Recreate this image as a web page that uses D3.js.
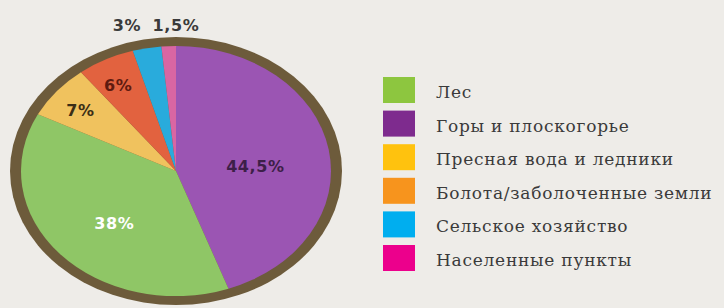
<!DOCTYPE html>
<html>
<head>
<meta charset="utf-8">
<script src="https://cdn.jsdelivr.net/npm/d3@7"></script>
<style>
  html, body { margin: 0; padding: 0; background: #eeece8; }
  svg { display: block; }
  .lbl { font-family: "DejaVu Sans", sans-serif; font-weight: bold; font-size: 16px; letter-spacing: 0.6px; }
  .leg { font-family: "DejaVu Serif", serif; font-size: 17px; fill: #3a3a3a; letter-spacing: 0.75px; }
</style>
</head>
<body>
<script>
var w = 724;
var h = 308;

// shares, clockwise from 12 o'clock
var categories = ['Горы и плоскогорье', 'Лес', 'Пресная вода и ледники', 'Болота/заболоченные земли', 'Сельское хозяйство', 'Населенные пункты'];
var values = [44.5, 38, 7, 6, 3, 1.5];
var labels = ['44,5%', '38%', '7%', '6%', '3%', '1,5%'];
var sliceColors = ['#9b55b3', '#8fc666', '#f0c25e', '#e2623f', '#29abdc', '#d966a3'];

// legend order as in the picture
var legendNames = ['Лес', 'Горы и плоскогорье', 'Пресная вода и ледники', 'Болота/заболоченные земли', 'Сельское хозяйство', 'Населенные пункты'];
var legendColors = ['#8dc63f', '#7e2b8e', '#ffc20e', '#f7941d', '#00aeef', '#ec008c'];

var cx = 176, cy = 171;
var rx = 166, ry = 134;
var border = 11;
var sy = ry / rx;

var svg = d3.select('body').append('svg')
  .attr('width', w)
  .attr('height', h);

var pie = d3.pie().sort(null).value(function(d) { return d; });
var arcs = pie(values);
var r = rx - border;
var arc = d3.arc().innerRadius(0).outerRadius(r);

var g = svg.append('g')
  .attr('transform', 'translate(' + cx + ',' + cy + ') scale(1,' + sy + ')');

g.append('circle')
  .attr('r', rx)
  .attr('fill', '#6d5b3b');

g.selectAll('path')
  .data(arcs)
  .enter().append('path')
  .attr('d', arc)
  .attr('fill', function(d, i) { return sliceColors[i]; });

// label placement: fraction of radius along mid angle, plus baseline shift
var labelPos = [
  {f: 0.52, dy: 12, fill: '#3d1f48'},
  {f: 0.53, dy: 14, fill: '#ffffff'},
  {f: 0.8, dy: 9, fill: '#3b2e16'},
  {f: 0.82, dy: 11, fill: '#5e1a10'},
  {f: null, x: 127, y: 31, fill: '#3a3a3a'},
  {f: null, x: 176, y: 31, fill: '#3a3a3a'}
];

svg.selectAll('text.lbl')
  .data(arcs)
  .enter().append('text')
  .attr('class', 'lbl')
  .attr('text-anchor', 'middle')
  .attr('fill', function(d, i) { return labelPos[i].fill; })
  .attr('x', function(d, i) {
    var p = labelPos[i];
    if (p.f === null) return p.x;
    var a = (d.startAngle + d.endAngle) / 2;
    return cx + Math.sin(a) * r * p.f;
  })
  .attr('y', function(d, i) {
    var p = labelPos[i];
    if (p.f === null) return p.y;
    var a = (d.startAngle + d.endAngle) / 2;
    return cy - Math.cos(a) * r * p.f * sy + p.dy;
  })
  .text(function(d, i) { return labels[i]; });

var leg = svg.append('g').attr('transform', 'translate(383,77)');
var row = leg.selectAll('g')
  .data(legendNames)
  .enter().append('g')
  .attr('transform', function(d, i) { return 'translate(0,' + (i * 33.6) + ')'; });

row.append('rect')
  .attr('width', 32)
  .attr('height', 26)
  .attr('fill', function(d, i) { return legendColors[i]; });

row.append('text')
  .attr('class', 'leg')
  .attr('x', 53)
  .attr('y', 21)
  .text(function(d) { return d; });
</script>
</body>
</html>
